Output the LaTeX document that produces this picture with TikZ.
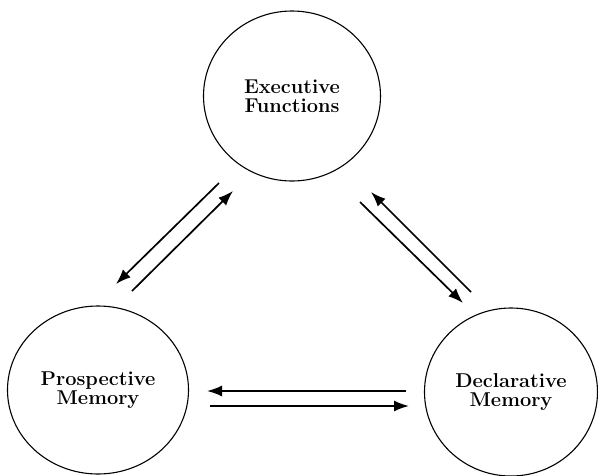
\documentclass[tikz,border=0pt]{standalone}
\usepackage{fontspec}
\usetikzlibrary{arrows.meta,shapes.geometric}
\begin{document}
\begin{tikzpicture}[x=1pt,y=-1pt,
  circ/.style={draw,ellipse,inner sep=0pt,line width=1.1pt,align=center,font=\fontsize{20}{19.5}\selectfont\bfseries},
  arr/.style={line width=1.7pt,-{Latex[length=15pt,width=11pt]}}]
\useasboundingbox (0,0) rectangle (598,475);
\begin{scope}
\clip (0,0) rectangle (598,475);
\node[circ,minimum width=177pt,minimum height=170pt] (ef) at (292,96) {Executive\\Functions};
\node[circ,minimum width=181pt,minimum height=168pt] (pm) at (98,390) {Prospective\\Memory};
\node[circ,minimum width=173pt,minimum height=168pt] (dm) at (511,392) {Declarative\\Memory};
\end{scope}
\coordinate (a1) at (219,183); \coordinate (a2) at (116,284);
\coordinate (b1) at (132,291); \coordinate (b2) at (233,191);
\coordinate (c1) at (471,292); \coordinate (c2) at (371,192);
\coordinate (d1) at (360,202); \coordinate (d2) at (463,303);
\coordinate (e1) at (406,391); \coordinate (e2) at (207,391);
\coordinate (f1) at (210,406); \coordinate (f2) at (409,406);
\draw[arr] (a1) -- (a2);
\draw[arr] (b1) -- (b2);
\draw[arr] (c1) -- (c2);
\draw[arr] (d1) -- (d2);
\draw[arr] (e1) -- (e2);
\draw[arr] (f1) -- (f2);
\end{tikzpicture}
\end{document}
